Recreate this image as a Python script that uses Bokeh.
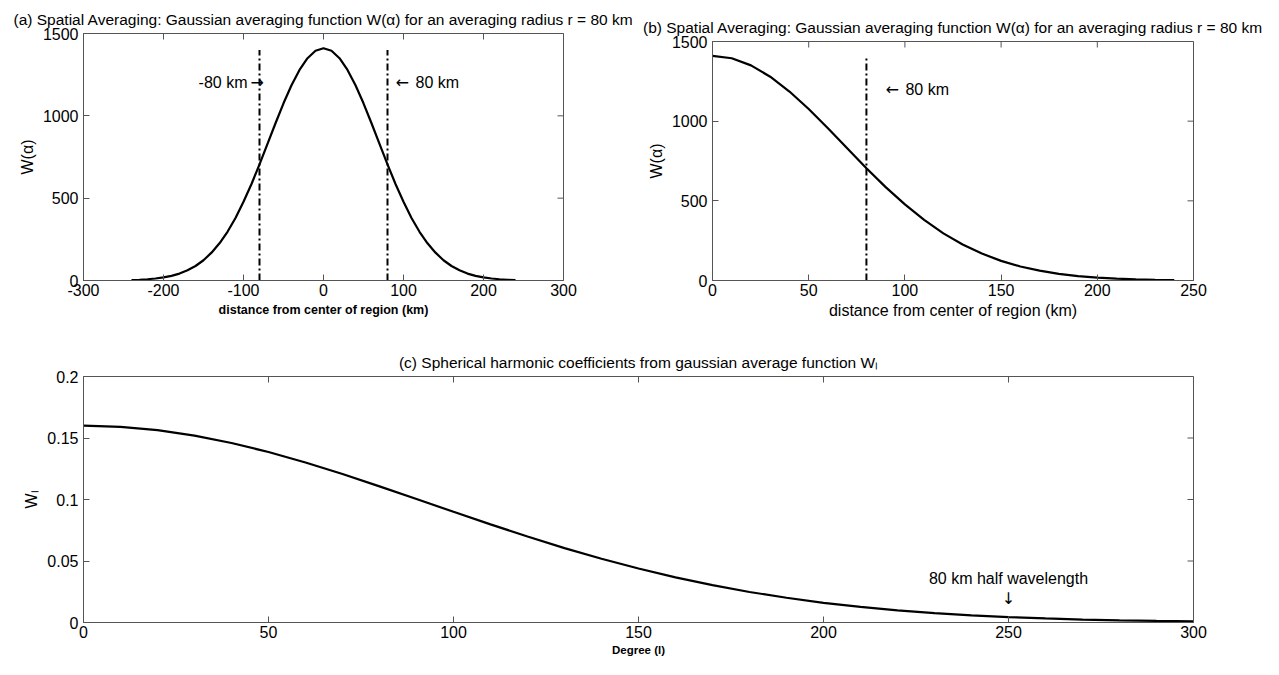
import math
from bokeh.plotting import figure
from bokeh.models import Range1d, FixedTicker, LinearAxis, Label, Title, Spacer
from bokeh.layouts import column, row
from bokeh.embed import file_html
from bokeh.resources import INLINE

# ---------------- data ----------------
alpha_km = [0, 10, 20, 30, 40, 50, 60, 70, 80, 90, 100, 110, 120, 130, 140, 150,
            160, 170, 180, 190, 200, 210, 220, 230, 240]
w_alpha = [1410, 1395, 1350, 1279, 1186, 1076, 955, 830, 705, 586, 478, 380, 296,
           226, 169, 123, 88, 62, 42, 28, 18.5, 12, 7.5, 4.6, 2.8]

degree = [0, 10, 20, 30, 40, 50, 60, 70, 80, 90, 100, 110, 120, 130, 140, 150, 160,
          170, 180, 190, 200, 210, 220, 230, 240, 250, 260, 270, 280, 290, 300]
w_l = [0.1600, 0.1591, 0.1564, 0.1519, 0.1459, 0.1386, 0.1301, 0.1207, 0.1107, 0.1004,
       0.0900, 0.0798, 0.0699, 0.0605, 0.0518, 0.0439, 0.0367, 0.0304, 0.0248, 0.0201,
       0.0160, 0.0127, 0.0099, 0.0076, 0.0058, 0.0044, 0.0033, 0.0024, 0.0018, 0.0013,
       0.0009]

radius_km = 80
marker_top = 1400
half_wavelength_degree = 250

a_xticks = [-300, -200, -100, 0, 100, 200, 300]
a_xlabels = ["-300", "-200", "-100", "0", "100", "200", "300"]
ab_yticks = [0, 500, 1000, 1500]
ab_ylabels = ["0", "500", "1000", "1500"]
b_xticks = [0, 50, 100, 150, 200, 250]
b_xlabels = ["0", "50", "100", "150", "200", "250"]
c_xticks = [0, 50, 100, 150, 200, 250, 300]
c_xlabels = ["0", "50", "100", "150", "200", "250", "300"]
c_yticks = [0, 0.05, 0.1, 0.15, 0.2]
c_ylabels = ["0", "0.05", "0.1", "0.15", "0.2"]

title_a = "(a) Spatial Averaging: Gaussian averaging function W(\u03b1) for an averaging radius r = 80 km"
title_b = "(b) Spatial Averaging: Gaussian averaging function W(\u03b1) for an averaging radius r = 80 km"
title_c = "(c) Spherical harmonic coefficients from gaussian average function W\u2097"
xlabel_ab = "distance from center of region (km)"
ylabel_ab = "W(\u03b1)"
xlabel_c = "Degree (l)"
ylabel_c = "W\u2097"

# ---------------- style ----------------
FONT = "Liberation Sans"
ARROW_FONT = "DejaVu Sans"
TICK_FS = "16px"
TITLE_FS = "15.5px"
AX = "#555555"
TICK_LEN = 6


def make_fig(w, h, left, right, top, bottom, xr, yr):
    p = figure(width=w, height=h, min_border_left=left, min_border_right=right,
               min_border_top=top, min_border_bottom=bottom,
               x_range=Range1d(*xr), y_range=Range1d(*yr),
               output_backend="svg", toolbar_location=None,
               x_axis_location=None, y_axis_location=None)
    p.grid.grid_line_color = None
    p.outline_line_color = AX
    p.outline_line_width = 1
    p.background_fill_color = "white"
    p.border_fill_color = "white"
    return p


def add_axes(p, xticks, xlabels, yticks, ylabels, fw, fh, xlab, ylab,
             xlab_size, xlab_style, xlab_standoff):
    xa = LinearAxis(ticker=FixedTicker(ticks=xticks),
                    major_label_overrides={t: s for t, s in zip(xticks, xlabels)})
    ya = LinearAxis(ticker=FixedTicker(ticks=yticks),
                    major_label_overrides={t: s for t, s in zip(yticks, ylabels)})
    for ax in (xa, ya):
        ax.major_tick_in = TICK_LEN
        ax.major_tick_out = 0
        ax.minor_tick_line_color = None
        ax.axis_line_color = AX
        ax.major_tick_line_color = AX
        ax.major_label_text_font = FONT
        ax.major_label_text_font_size = TICK_FS
        ax.major_label_text_color = "black"
        ax.axis_label_text_font = FONT
        ax.axis_label_text_color = "black"
    xa.major_label_standoff = 3
    ya.major_label_standoff = 5
    xa.axis_label = xlab
    xa.axis_label_text_font_size = xlab_size
    xa.axis_label_text_font_style = xlab_style
    xa.axis_label_standoff = xlab_standoff
    ya.axis_label = ylab
    ya.axis_label_text_font_size = "16px"
    ya.axis_label_text_font_style = "normal"
    ya.axis_label_standoff = 4
    p.add_layout(xa, "below")
    p.add_layout(ya, "left")
    # mirrored ticks on top and right (box on)
    x0, x1 = p.x_range.start, p.x_range.end
    y0, y1 = p.y_range.start, p.y_range.end
    dy = TICK_LEN * (y1 - y0) / fh
    dx = TICK_LEN * (x1 - x0) / fw
    p.segment(x0=xticks, y0=[y1] * len(xticks), x1=xticks, y1=[y1 - dy] * len(xticks),
              line_color=AX, line_width=1)
    p.segment(x0=[x1] * len(yticks), y0=yticks, x1=[x1 - dx] * len(yticks), y1=yticks,
              line_color=AX, line_width=1)


def add_title(p, text, standoff):
    p.add_layout(Title(text=text, align="center", text_font=FONT,
                       text_font_size=TITLE_FS, text_font_style="normal",
                       text_color="black", standoff=standoff), "above")


def lab(p, x, y, text, xo=0, yo=0, align="center", base="middle", size=TICK_FS,
        font=FONT):
    p.add_layout(Label(x=x, y=y, x_offset=xo, y_offset=yo, text=text,
                       text_align=align, text_baseline=base, text_font=font,
                       text_font_size=size, text_color="black"))


# ---------------- panel (a) ----------------
pa = make_fig(640, 342, 83, 77, 33, 62, (-300, 300), (0, 1500))
add_axes(pa, a_xticks, a_xlabels, ab_yticks, ab_ylabels, 480, 247,
         xlabel_ab, ylabel_ab, "12.5px", "bold", 4)
add_title(pa, title_a, 12)
full_x = [-a for a in reversed(alpha_km)] + alpha_km[1:]
full_w = list(reversed(w_alpha)) + w_alpha[1:]
pa.line(full_x, full_w, line_color="black", line_width=2.2)
for xv in (-radius_km, radius_km):
    pa.line([xv, xv], [0, marker_top], line_color="black", line_width=2,
            line_dash="7 3 2 3")
lab(pa, -radius_km, 1200, "-80 km", xo=-12, align="right")
lab(pa, -radius_km, 1200, "\u2192", xo=-9, align="left", font=ARROW_FONT)
lab(pa, radius_km, 1200, "\u2190", xo=8, align="left", font=ARROW_FONT)
lab(pa, radius_km, 1200, "80 km", xo=28, align="left")

# ---------------- panel (b) ----------------
pb = make_fig(639, 334, 72, 86, 33, 62, (0, 250), (0, 1500))
add_axes(pb, b_xticks, b_xlabels, ab_yticks, ab_ylabels, 481, 239,
         xlabel_ab, ylabel_ab, "16px", "normal", 3)
add_title(pb, title_b, 12)
pb.line(alpha_km, w_alpha, line_color="black", line_width=2.2)
pb.line([radius_km, radius_km], [0, marker_top], line_color="black", line_width=2,
        line_dash="7 3 2 3")
lab(pb, radius_km, 1200, "\u2190", xo=19, align="left", font=ARROW_FONT)
lab(pb, radius_km, 1200, "80 km", xo=39, align="left")

# ---------------- panel (c) ----------------
pc = make_fig(1279, 333, 83, 86, 34, 53, (0, 300), (0, 0.2))
add_axes(pc, c_xticks, c_xlabels, c_yticks, c_ylabels, 1110, 246,
         xlabel_c, ylabel_c, "11.5px", "bold", 3)
add_title(pc, title_c, 12)
pc.line(degree, w_l, line_color="black", line_width=2.2)
lab(pc, half_wavelength_degree, 0.0358, "80 km half wavelength")
lab(pc, half_wavelength_degree, 0.0195, "\u2193", font=ARROW_FONT)

right_col = column(Spacer(width=639, height=8), pb, spacing=0)
layout = column(row(pa, right_col, spacing=0), pc, spacing=0)
open("out.html", "w").write(file_html(layout, INLINE))
